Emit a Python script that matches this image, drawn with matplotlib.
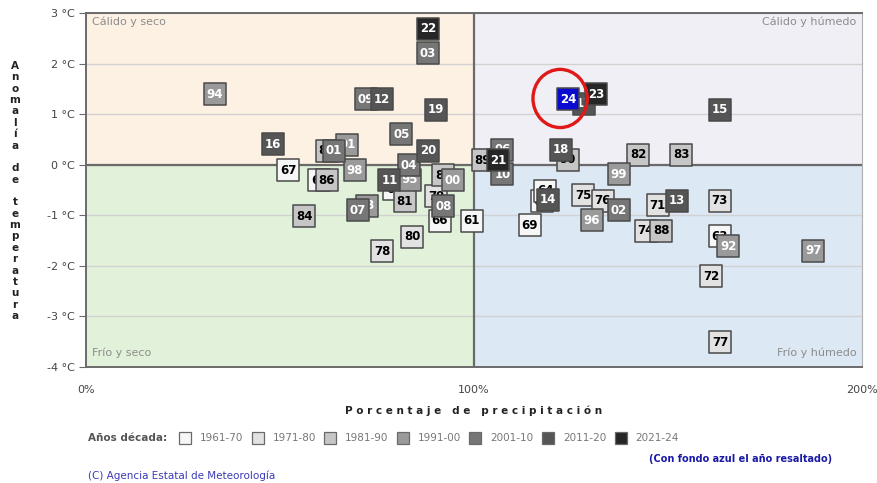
import matplotlib
matplotlib.use("Agg")
import matplotlib.pyplot as plt
from matplotlib.patches import Rectangle, Ellipse

# años (en orden cronológico), % de precipitación y anomalía de temperatura (°C)
years = ['61', '62', '63', '64', '65', '66', '67', '68', '69',
         '71', '72', '73', '74', '75', '76', '77', '78', '79', '80',
         '81', '82', '83', '84', '85', '86', '87', '88', '89', '90',
         '91', '92', '93', '94', '95', '96', '97', '98', '99', '00',
         '01', '02', '03', '04', '05', '06', '07', '08', '09', '10',
         '11', '12', '13', '14', '15', '16', '17', '18', '19', '20',
         '21', '22', '23', '24']
precip = [99.4, 117.5, 163.3, 118.3, 79.4, 91.2, 52.1, 60.1, 114.4,
          147.3, 161.1, 163.3, 144.3, 128.1, 133.2, 163.4, 76.3, 90.2, 84.1,
          82.2, 142.3, 153.4, 56.2, 62.1, 62.0, 92.0, 148.3, 102.2, 124.2,
          67.3, 165.5, 72.3, 33.2, 83.4, 130.3, 187.4, 69.3, 137.4, 94.5,
          63.9, 137.4, 88.1, 83.2, 81.3, 107.3, 70.1, 92.1, 72.2, 107.3,
          78.2, 76.3, 152.3, 119.1, 163.4, 48.2, 128.4, 122.4, 90.2, 88.1,
          106.2, 88.1, 131.4, 124.2]
anomaly = [-1.11, -0.72, -1.41, -0.51, -0.49, -1.11, -0.11, -0.31, -1.20,
           -0.80, -2.21, -0.71, -1.31, -0.60, -0.71, -3.51, -1.71, -0.62, -1.42,
           -0.72, 0.20, 0.20, -1.02, 0.28, -0.31, -0.21, -1.31, 0.09, 0.10,
           0.39, -1.61, -0.81, 1.39, -0.30, -1.10, -1.70, -0.11, -0.19, -0.31,
           0.28, -0.90, 2.20, -0.01, 0.60, 0.30, -0.90, -0.82, 1.29, -0.19,
           -0.31, 1.29, -0.71, -0.69, 1.09, 0.40, 1.21, 0.30, 1.09, 0.28,
           0.09, 2.69, 1.39, 1.29]
highlight = '24'

decades = ['1961-70', '1971-80', '1981-90', '1991-00', '2001-10', '2011-20', '2021-24']
dec_fill = ['#f6f6f6', '#e2e2e2', '#c6c6c6', '#9a9a9a', '#767676', '#555555', '#262626']
dec_text = ['black', 'black', 'black', 'white', 'white', 'white', 'white']

yticks = [-4, -3, -2, -1, 0, 1, 2, 3]
xticks = [0, 100, 200]

fig = plt.figure(figsize=(8.77, 4.83), dpi=100)
ax = fig.add_axes([86 / 877, 1 - 367 / 483, 776 / 877, 354 / 483])
ax.set_xlim(0, 200)
ax.set_ylim(-4, 3)

# cuadrantes
ax.add_patch(Rectangle((0, 0), 100, 3, color='#fdf1e3', zorder=0, lw=0))
ax.add_patch(Rectangle((100, 0), 100, 3, color='#f0eff6', zorder=0, lw=0))
ax.add_patch(Rectangle((0, -4), 100, 4, color='#e2f2da', zorder=0, lw=0))
ax.add_patch(Rectangle((100, -4), 100, 4, color='#dce8f4', zorder=0, lw=0))
for v in yticks:
    ax.axhline(v, color='#d2d2d2', lw=1, zorder=0.5)
ax.axhline(0, color='#6a6a6a', lw=1.6, zorder=0.6)
ax.axvline(100, color='#6a6a6a', lw=1.6, zorder=0.6)

for s in ['top', 'left', 'bottom']:
    ax.spines[s].set_color('#6a6a6a')
    ax.spines[s].set_linewidth(1.4)
ax.spines['right'].set_color('#b0b0b0')

ax.set_yticks(yticks)
ax.set_yticklabels(['%d °C' % v for v in yticks], fontsize=8, color='#444444')
ax.set_xticks(xticks)
ax.set_xticklabels(['%d%%' % v for v in xticks], fontsize=8, color='#444444')
ax.tick_params(axis='y', length=5, color='#6a6a6a', pad=3)
ax.tick_params(axis='x', length=0, pad=13)

qc = '#8c8c8c'
ax.text(1.5, 2.93, 'Cálido y seco', fontsize=8, color=qc, va='top', ha='left')
ax.text(198.5, 2.93, 'Cálido y húmedo', fontsize=8, color=qc, va='top', ha='right')
ax.text(1.5, -3.72, 'Frío y seco', fontsize=8, color=qc, va='center', ha='left')
ax.text(198.5, -3.72, 'Frío y húmedo', fontsize=8, color=qc, va='center', ha='right')

# cajas de cada año (las más recientes encima)
for i, (yr, px, an) in enumerate(zip(years, precip, anomaly)):
    n = int(yr)
    full = 1900 + n if n >= 61 else 2000 + n
    d = (full - 1961) // 10
    fc, tc = dec_fill[d], dec_text[d]
    if yr == highlight:
        fc, tc = '#0a0ad0', 'white'
    z = 2 + i * 0.01
    ax.scatter(px, an, marker='s', s=245, c=fc, edgecolors='#4a4a4a',
               linewidths=1.1, zorder=z)
    ax.text(px, an, yr, fontsize=8.5, fontweight='bold', color=tc,
            ha='center', va='center', zorder=z + 0.005)
    if yr == highlight:
        ax.add_patch(Ellipse((px - 2, an + 0.02), 14, 1.15, fill=False,
                             edgecolor='#e01818', lw=2.4, zorder=5))

# etiquetas de ejes
fig.text(15 / 877, 1 - 191 / 483, '\n'.join('Anomalía de temperatura'),
         fontsize=7.5, fontweight='bold', ha='center', va='center',
         linespacing=1.17, color='#222222')
fig.text(474 / 877, 1 - 411 / 483, ' '.join('Porcentaje de precipitación'),
         fontsize=7.5, fontweight='bold', ha='center', va='center', color='#222222')

# leyenda
ly = 1 - 438 / 483
fig.text(88 / 877, ly, 'Años década:', fontsize=7.5, fontweight='bold',
         color='#555555', va='center')
for k, lab in enumerate(decades):
    x0 = 179 + k * 72.6
    fig.patches.append(Rectangle((x0 / 877, ly - 6 / 483), 12 / 877, 12 / 483,
                                 transform=fig.transFigure, facecolor=dec_fill[k],
                                 edgecolor='#6a6a6a', lw=0.9))
    fig.text((x0 + 21) / 877, ly, lab, fontsize=7.5, color='#777777', va='center')

fig.text(832 / 877, 1 - 459 / 483, '(Con fondo azul el año resaltado)', fontsize=7,
         fontweight='bold', color='#1a1aa8', ha='right', va='center')
fig.text(88 / 877, 1 - 476 / 483, '(C) Agencia Estatal de Meteorología', fontsize=7.5,
         color='#3a3ab8', va='center')

fig.savefig('out.png', dpi=100, facecolor='white')
